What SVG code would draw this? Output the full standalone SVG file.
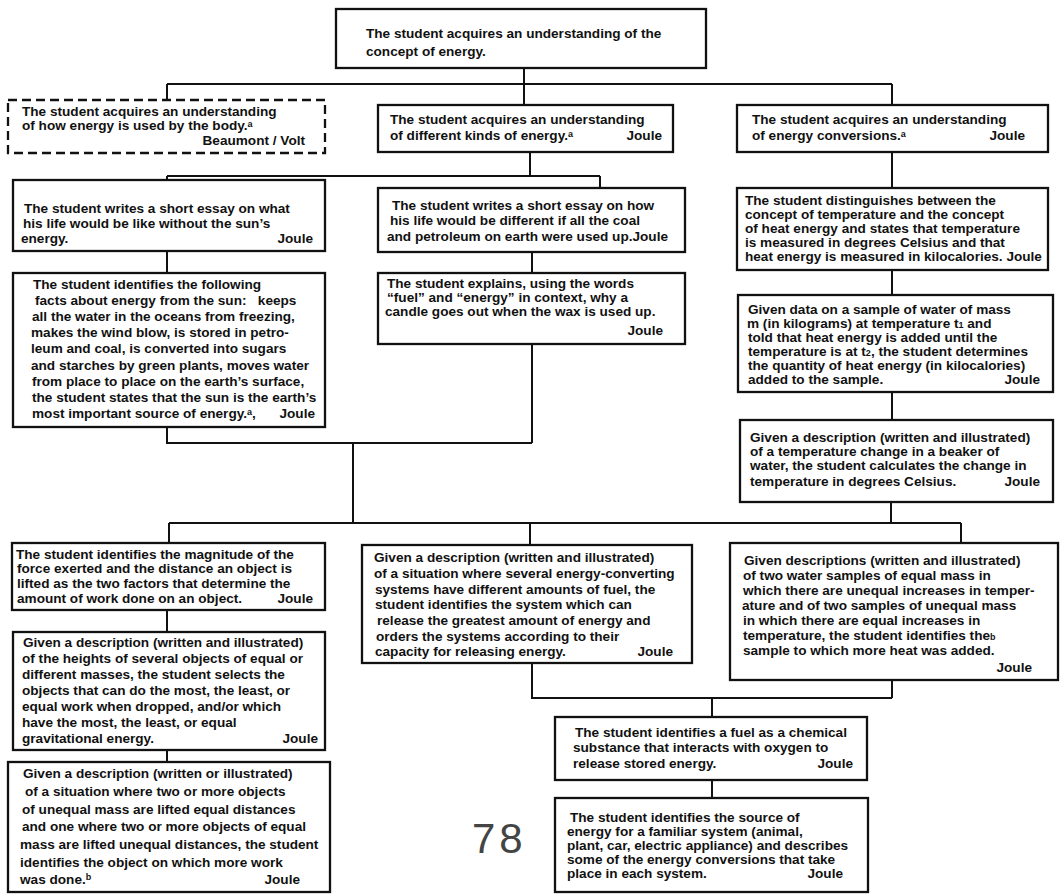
<svg xmlns="http://www.w3.org/2000/svg" width="1061" height="895" viewBox="0 0 1061 895">
  <style>
    .box { fill: #fff; stroke: #111; stroke-width: 2.3; }
    .dash { stroke-dasharray: 9 5; }
    .wire { fill: none; stroke: #111; stroke-width: 2; }
    text { font-family: "Liberation Sans", Arial, sans-serif; font-weight: bold; font-size: 13.6px; fill: #111; }
    .r { text-anchor: end; }
    .sup { font-size: 9px; }
    .pg { font-size: 42px; font-weight: normal; fill: #444; letter-spacing: 4px; }
  </style>
  <rect width="1061" height="895" fill="#fff"/>

  <g id="connectors">
    <path class="wire" d="M524 68 V105 M167 84 H892 M167 84 V100 M892 84 V105"/>
    <path class="wire" d="M530 152 V176 M167 176 H600 M167 176 V180 M600 176 V188"/>
    <path class="wire" d="M892 152 V188 M892 270 V295 M892 392 V420"/>
    <path class="wire" d="M167 251 V273 M532 252 V273"/>
    <path class="wire" d="M167 427 V443 H532 M532 344 V443 M353 443 V523"/>
    <path class="wire" d="M169 523 H961 M891 502 V523 M169 523 V543 M530 523 V545 M961 523 V543"/>
    <path class="wire" d="M167 610 V632 M167 750 V762"/>
    <path class="wire" d="M532 663 V698 H892 M892 680 V698 M712 698 V717 M712 780 V798"/>
  </g>

  <g id="n_root">
    <rect class="box" x="336" y="9" width="370" height="59"/>
    <text x="366" y="38">The student acquires an understanding of the</text>
    <text x="366" y="56">concept of energy.</text>
  </g>

  <g id="n_body">
    <rect class="box dash" x="8" y="100" width="317" height="53"/>
    <text x="22" y="116">The student acquires an understanding</text>
    <text x="22" y="130">of how energy is used by the body.<tspan class="sup" baseline-shift="3px">a</tspan></text>
    <text class="r" x="305" y="145">Beaumont / Volt</text>
  </g>

  <g id="n_kinds">
    <rect class="box" x="378" y="105" width="295" height="47"/>
    <text x="390" y="124">The student acquires an understanding</text>
    <text x="390" y="140">of different kinds of energy.<tspan class="sup" baseline-shift="3px">a</tspan></text>
    <text class="r" x="662" y="140">Joule</text>
  </g>

  <g id="n_conv">
    <rect class="box" x="737" y="105" width="311" height="47"/>
    <text x="752" y="124">The student acquires an understanding</text>
    <text x="752" y="140">of energy conversions.<tspan class="sup" baseline-shift="3px">a</tspan></text>
    <text class="r" x="1025" y="140">Joule</text>
  </g>

  <g id="n_essay1">
    <rect class="box" x="13" y="180" width="312" height="71"/>
    <text x="24" y="213">The student writes a short essay on what</text>
    <text x="23" y="228">his life would be like without the sun’s</text>
    <text x="21" y="243">energy.</text>
    <text class="r" x="313" y="243">Joule</text>
  </g>

  <g id="n_essay2">
    <rect class="box" x="378" y="188" width="307" height="64"/>
    <text x="392" y="210">The student writes a short essay on how</text>
    <text x="390" y="225">his life would be different if all the coal</text>
    <text x="387" y="241">and petroleum on earth were used up.Joule</text>
  </g>

  <g id="n_temp">
    <rect class="box" x="737" y="188" width="311" height="82"/>
    <text x="745" y="205">The student distinguishes between the</text>
    <text x="745" y="219">concept of temperature and the concept</text>
    <text x="745" y="233">of heat energy and states that temperature</text>
    <text x="745" y="247">is measured in degrees Celsius and that</text>
    <text x="745" y="261">heat energy is measured in kilocalories. Joule</text>
  </g>

  <g id="n_sun">
    <rect class="box" x="13" y="273" width="312" height="154"/>
    <text x="33" y="289">The student identifies the following</text>
    <text x="35" y="305">facts about energy from the sun:&#160;&#160;&#160;keeps</text>
    <text x="32" y="321">all the water in the oceans from freezing,</text>
    <text x="31" y="337">makes the wind blow, is stored in petro-</text>
    <text x="31" y="353">leum and coal, is converted into sugars</text>
    <text x="31" y="370">and starches by green plants, moves water</text>
    <text x="32" y="386">from place to place on the earth’s surface,</text>
    <text x="32" y="402">the student states that the sun is the earth’s</text>
    <text x="32" y="418">most important source of energy.<tspan class="sup" baseline-shift="3px">a</tspan>,</text>
    <text class="r" x="315" y="418">Joule</text>
  </g>

  <g id="n_candle">
    <rect class="box" x="378" y="273" width="307" height="71"/>
    <text x="387" y="288">The student explains, using the words</text>
    <text x="387" y="302">“fuel” and “energy” in context, why a</text>
    <text x="385" y="316">candle goes out when the wax is used up.</text>
    <text class="r" x="663" y="335">Joule</text>
  </g>

  <g id="n_water">
    <rect class="box" x="738" y="295" width="315" height="97"/>
    <text x="748" y="314">Given data on a sample of water of mass</text>
    <text x="747" y="328">m (in kilograms) at temperature t<tspan class="sup">1</tspan> and</text>
    <text x="748" y="342">told that heat energy is added until the</text>
    <text x="748" y="356">temperature is at t<tspan class="sup">2</tspan>, the student determines</text>
    <text x="748" y="370">the quantity of heat energy (in kilocalories)</text>
    <text x="748" y="384">added to the sample.</text>
    <text class="r" x="1040" y="384">Joule</text>
  </g>

  <g id="n_beaker">
    <rect class="box" x="740" y="420" width="313" height="82"/>
    <text x="750" y="442">Given a description (written and illustrated)</text>
    <text x="750" y="456">of a temperature change in a beaker of</text>
    <text x="750" y="470">water, the student calculates the change in</text>
    <text x="750" y="486">temperature in degrees Celsius.</text>
    <text class="r" x="1040" y="486">Joule</text>
  </g>

  <g id="n_work">
    <rect class="box" x="12" y="543" width="313" height="67"/>
    <text x="16" y="559">The student identifies the magnitude of the</text>
    <text x="17" y="573">force exerted and the distance an object is</text>
    <text x="17" y="588">lifted as the two factors that determine the</text>
    <text x="17" y="603">amount of work done on an object.</text>
    <text class="r" x="313" y="603">Joule</text>
  </g>

  <g id="n_grav">
    <rect class="box" x="13" y="632" width="312" height="118"/>
    <text x="23" y="647">Given a description (written and illustrated)</text>
    <text x="22" y="663">of the heights of several objects of equal or</text>
    <text x="22" y="679">different masses, the student selects the</text>
    <text x="22" y="695">objects that can do the most, the least, or</text>
    <text x="22" y="711">equal work when dropped, and/or which</text>
    <text x="22" y="727">have the most, the least, or equal</text>
    <text x="22" y="743">gravitational energy.</text>
    <text class="r" x="318" y="743">Joule</text>
  </g>

  <g id="n_lift">
    <rect class="box" x="8" y="762" width="322" height="130"/>
    <text x="23" y="778">Given a description (written or illustrated)</text>
    <text x="25" y="796">of a situation where two or more objects</text>
    <text x="22" y="814">of unequal mass are lifted equal distances</text>
    <text x="22" y="831">and one where two or more objects of equal</text>
    <text x="20" y="849">mass are lifted unequal distances, the student</text>
    <text x="20" y="867">identifies the object on which more work</text>
    <text x="20" y="884">was done.<tspan class="sup" baseline-shift="4px">b</tspan></text>
    <text class="r" x="300" y="884">Joule</text>
  </g>

  <g id="n_fuelsys">
    <rect class="box" x="362" y="545" width="330" height="118"/>
    <text x="374" y="562">Given a description (written and illustrated)</text>
    <text x="374" y="578">of a situation where several energy-converting</text>
    <text x="375" y="594">systems have different amounts of fuel, the</text>
    <text x="375" y="609">student identifies the system which can</text>
    <text x="377" y="625">release the greatest amount of energy and</text>
    <text x="376" y="641">orders the systems according to their</text>
    <text x="375" y="656">capacity for releasing energy.</text>
    <text class="r" x="673" y="656">Joule</text>
  </g>

  <g id="n_heat">
    <rect class="box" x="730" y="543" width="328" height="137"/>
    <text x="744" y="565">Given descriptions (written and illustrated)</text>
    <text x="743" y="580">of two water samples of equal mass in</text>
    <text x="743" y="595">which there are unequal increases in temper-</text>
    <text x="742" y="610">ature and of two samples of unequal mass</text>
    <text x="743" y="625">in which there are equal increases in</text>
    <text x="743" y="640">temperature, the student identifies the<tspan class="sup">b</tspan></text>
    <text x="743" y="655">sample to which more heat was added.</text>
    <text class="r" x="1032" y="672">Joule</text>
  </g>

  <g id="n_chem">
    <rect class="box" x="555" y="717" width="312" height="63"/>
    <text x="575" y="737">The student identifies a fuel as a chemical</text>
    <text x="573" y="752">substance that interacts with oxygen to</text>
    <text x="573" y="768">release stored energy.</text>
    <text class="r" x="853" y="768">Joule</text>
  </g>

  <g id="n_source">
    <rect class="box" x="555" y="798" width="313" height="94"/>
    <text x="570" y="822">The student identifies the source of</text>
    <text x="567" y="836">energy for a familiar system (animal,</text>
    <text x="567" y="850">plant, car, electric appliance) and describes</text>
    <text x="567" y="864">some of the energy conversions that take</text>
    <text x="567" y="878">place in each system.</text>
    <text class="r" x="843" y="878">Joule</text>
  </g>

  <text class="pg" x="472" y="853">78</text>
</svg>
